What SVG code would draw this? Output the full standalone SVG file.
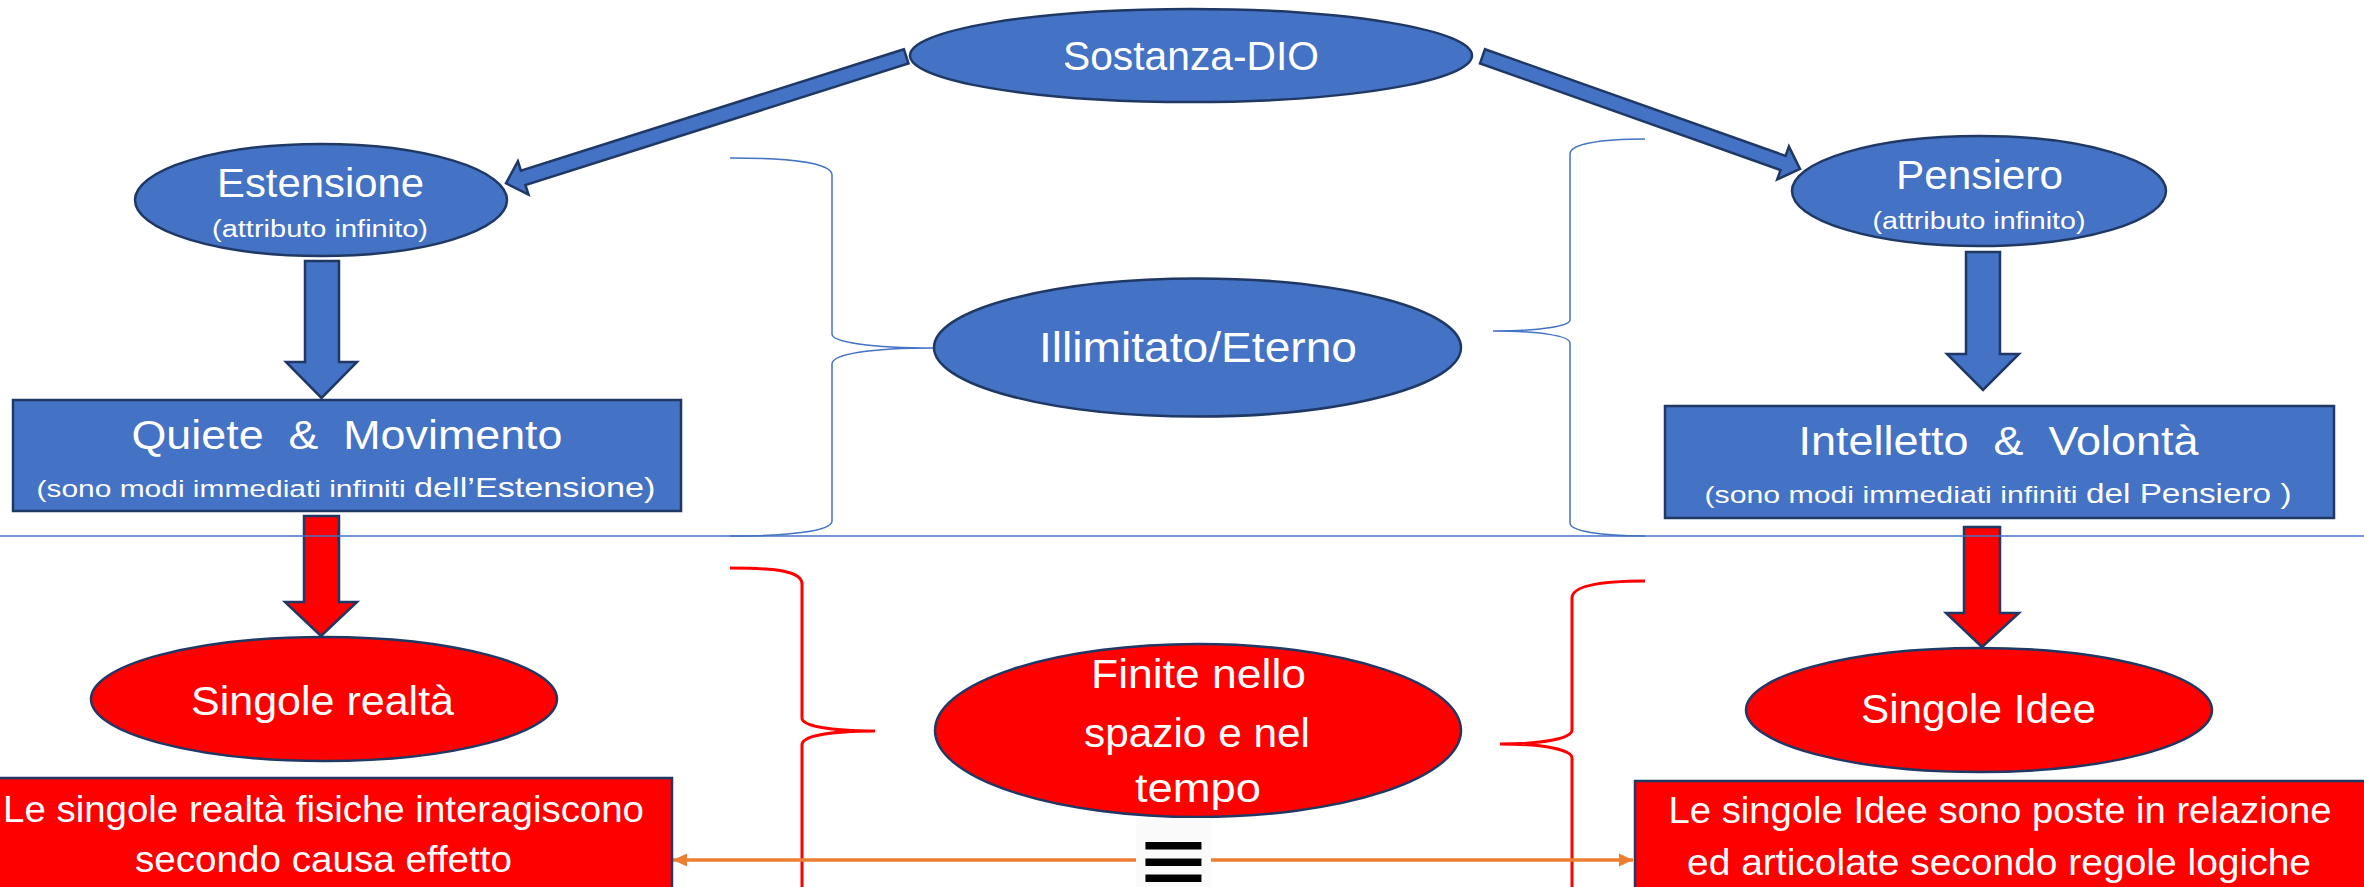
<svg xmlns="http://www.w3.org/2000/svg" width="2364" height="887" viewBox="0 0 2364 887">
<style>
.blue{fill:#4472C4;stroke:#1F3864;stroke-width:2.5}
.red{fill:#FF0000;stroke:#1F3864;stroke-width:2.5}
.t{font-family:"Liberation Sans",Arial,sans-serif;fill:#FFFFFF;text-anchor:middle}
.bb{fill:none;stroke:#4472C4;stroke-width:1.5}
.rb{fill:none;stroke:#FF0000;stroke-width:3}
</style>
<defs>
<marker id="oh" markerUnits="userSpaceOnUse" markerWidth="16" markerHeight="16" refX="14" refY="8" orient="auto-start-reverse">
<path d="M0,1.5 L14,8 L0,14.5 Z" fill="#ED7D31"/>
</marker>
</defs>
<rect width="2364" height="887" fill="#FFFFFF"/>

<g id="braces">
<path class="bb" d="M730,158 C790,158 832,163 832,175 L832,334 C832,342 870,348 934,348 C870,348 832,354 832,364 L832,521 C832,531 790,536 730,536"/>
<path class="bb" d="M1645,139 C1600,139 1570,144 1570,154 L1570,320 C1570,326 1540,331 1493,331 C1540,331 1570,336 1570,343 L1570,523 C1570,531 1600,536 1645,536"/>
<path class="rb" d="M730,568 C780,568 802,572 802,584 L802,718 C802,726 830,731 875,731 C830,731 802,736 802,745 L802,900"/>
<path class="rb" d="M1645,581 C1600,581 1572,586 1572,598 L1572,730 C1572,738 1545,744 1500,744 C1545,744 1572,750 1572,758 L1572,900"/>
</g>

<g id="connectors">
<polygon class="blue" points="903.9,49.2 520.9,170.7 517.9,161.2 506,183.3 528.5,194.5 525.4,185 908.5,63.5"/>
<polygon class="blue" points="1485,49.2 1785.6,155.9 1788.9,146.5 1800,169 1777.2,179.5 1780.5,170.1 1480,63.4"/>
<polygon class="blue" points="305,261 339,261 339,362 357,362 321.5,398 286,362 305,362"/>
<polygon class="blue" points="1966,252 2000,252 2000,354 2019,354 1983,390 1947,354 1966,354"/>
<polygon class="red" points="304,516 339,516 339,602 357,602 321,636 285,602 304,602"/>
<polygon class="red" points="1964,527 2000,527 2000,613 2019,613 1982,647 1946,613 1964,613"/>
<line x1="673" y1="860" x2="1633" y2="860" stroke="#ED7D31" stroke-width="3.3" marker-start="url(#oh)" marker-end="url(#oh)"/>
</g>

<line id="divider" x1="0" y1="536" x2="2364" y2="536" stroke="#4472C4" stroke-width="1.5"/>

<g id="sostanza">
<ellipse class="blue" cx="1191" cy="55.5" rx="281" ry="46.5"/>
<text class="t" x="1191" y="70" font-size="41" textLength="256" lengthAdjust="spacingAndGlyphs">Sostanza-DIO</text>
</g>

<g id="estensione">
<ellipse class="blue" cx="321" cy="200" rx="186" ry="56"/>
<text class="t" x="320.5" y="197" font-size="41" textLength="207" lengthAdjust="spacingAndGlyphs">Estensione</text>
<text class="t" x="320" y="237" font-size="23" textLength="216" lengthAdjust="spacingAndGlyphs">(attributo infinito)</text>
</g>

<g id="pensiero">
<ellipse class="blue" cx="1979" cy="191" rx="187" ry="55"/>
<text class="t" x="1979.5" y="189" font-size="41" textLength="167" lengthAdjust="spacingAndGlyphs">Pensiero</text>
<text class="t" x="1979" y="229" font-size="23" textLength="213" lengthAdjust="spacingAndGlyphs">(attributo infinito)</text>
</g>

<g id="illimitato">
<ellipse class="blue" cx="1197.5" cy="347.5" rx="263.5" ry="69"/>
<text class="t" x="1198" y="362" font-size="42" textLength="318" lengthAdjust="spacingAndGlyphs">Illimitato/Eterno</text>
</g>

<g id="quiete">
<rect class="blue" x="13" y="400" width="668" height="111"/>
<text class="t" x="347" y="449" font-size="41" textLength="431" lengthAdjust="spacingAndGlyphs" xml:space="preserve">Quiete  &amp;  Movimento</text>
<text class="t" x="346" y="497" textLength="619" lengthAdjust="spacingAndGlyphs"><tspan font-size="24.5">(sono modi immediati infiniti </tspan><tspan font-size="28">dell’Estensione)</tspan></text>
</g>

<g id="intelletto">
<rect class="blue" x="1665" y="406" width="669" height="112"/>
<text class="t" x="1998.6" y="455" font-size="41" textLength="400" lengthAdjust="spacingAndGlyphs" xml:space="preserve">Intelletto  &amp;  Volontà</text>
<text class="t" x="1998" y="503" textLength="587" lengthAdjust="spacingAndGlyphs"><tspan font-size="24.5">(sono modi immediati infiniti </tspan><tspan font-size="27">del Pensiero )</tspan></text>
</g>

<g id="singole-realta">
<ellipse class="red" cx="324" cy="699" rx="233" ry="62"/>
<text class="t" x="322.5" y="715" font-size="40" textLength="263" lengthAdjust="spacingAndGlyphs">Singole realtà</text>
</g>

<g id="singole-idee">
<ellipse class="red" cx="1979" cy="710" rx="233" ry="62"/>
<text class="t" x="1978.5" y="723" font-size="40" textLength="235" lengthAdjust="spacingAndGlyphs">Singole Idee</text>
</g>

<g id="finite">
<ellipse class="red" cx="1198" cy="730.5" rx="263" ry="86.5"/>
<text class="t" x="1198.5" y="688" font-size="40" textLength="215" lengthAdjust="spacingAndGlyphs">Finite nello</text>
<text class="t" x="1197" y="747" font-size="40" textLength="226" lengthAdjust="spacingAndGlyphs">spazio e nel</text>
<text class="t" x="1198" y="802" font-size="40" textLength="126" lengthAdjust="spacingAndGlyphs">tempo</text>
</g>

<g id="fisiche">
<rect class="red" x="-3" y="778" width="675" height="120"/>
<text class="t" x="323.5" y="822" font-size="37" textLength="641" lengthAdjust="spacingAndGlyphs">Le singole realtà fisiche interagiscono</text>
<text class="t" x="323.5" y="872" font-size="37" textLength="377" lengthAdjust="spacingAndGlyphs">secondo causa effetto</text>
</g>

<g id="idee-logiche">
<rect class="red" x="1635" y="781" width="735" height="120"/>
<text class="t" x="2000" y="823" font-size="37" textLength="663" lengthAdjust="spacingAndGlyphs">Le singole Idee sono poste in relazione</text>
<text class="t" x="1999" y="875" font-size="37" textLength="624" lengthAdjust="spacingAndGlyphs">ed articolate secondo regole logiche</text>
</g>

<g id="equiv">
<rect x="1136" y="818" width="75" height="69" fill="#FAFAFA"/>
<text x="1173.5" y="890" font-family="DejaVu Sans,sans-serif" font-size="89" fill="#000000" text-anchor="middle" textLength="75" lengthAdjust="spacingAndGlyphs">≡</text>
</g>
</svg>
